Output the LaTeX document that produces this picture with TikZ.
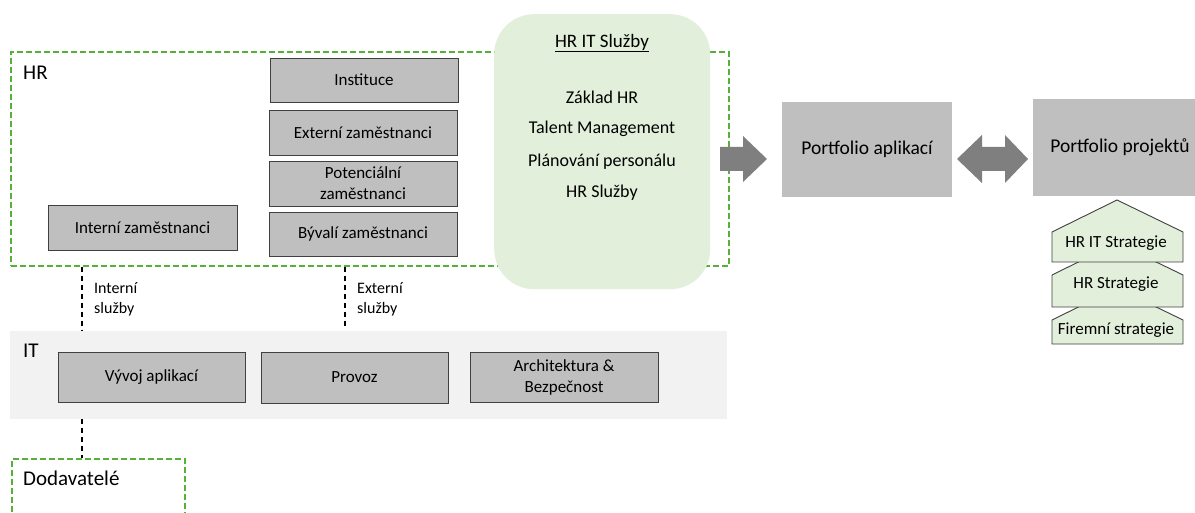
\documentclass[tikz,border=0pt]{standalone}
\usepackage{fontspec}
\setmainfont{Carlito}
\usetikzlibrary{calc}

\definecolor{boxgray}{HTML}{BFBFBF}
\definecolor{edgegray}{HTML}{404040}
\definecolor{arrowgray}{HTML}{7F7F7F}
\definecolor{palegreen}{HTML}{E2EFDA}
\definecolor{dashgreen}{HTML}{56B03A}
\definecolor{bandgray}{HTML}{F2F2F2}

\tikzset{
  unitbox/.style={draw=edgegray, line width=0.9pt, fill=boxgray, inner sep=0pt,
    minimum width=188pt, minimum height=45pt, align=center,
    font=\fontsize{17}{21}\selectfont},
  portbox/.style={fill=boxgray, inner sep=0pt, align=center,
    font=\fontsize{19.5}{23}\selectfont},
  frame/.style={draw=dashgreen, line width=1.7pt, dash pattern=on 6pt off 3pt,
    inner sep=0pt, anchor=north west},
  svc/.style={draw=black, line width=1.5pt, dash pattern=on 5pt off 4pt},
  grouplabel/.style={anchor=west, inner sep=0pt, font=\fontsize{21}{25}\selectfont},
  svclabel/.style={anchor=west, inner sep=0pt, align=left,
    font=\fontsize{16}{20}\selectfont},
  itemtext/.style={inner sep=0pt, font=\fontsize{18}{22}\selectfont},
  house/.style={draw=edgegray, line width=0.9pt, fill=palegreen},
  houselabel/.style={inner sep=0pt, font=\fontsize{17}{21}\selectfont},
  blockarrow/.style={fill=arrowgray},
}

\begin{document}
\begin{tikzpicture}[x=1pt, y=-1pt]
\clip (0,0) rectangle (1195,513);
\fill[white] (0,0) rectangle (1195,513);

% IT band and its units
\node[fill=bandgray, inner sep=0pt, minimum width=717pt, minimum height=88pt,
  anchor=north west] (it) at (10,331) {};
\node[grouplabel] (itlabel) at (23,351) {IT};
\node[unitbox, minimum width=187pt, minimum height=50pt] (vyv) at (151.5,377) {Vývoj aplikací};
\node[unitbox, minimum width=187pt, minimum height=51pt] (prov) at (354.5,377.5) {Provoz};
\node[unitbox, minimum width=188pt, minimum height=50pt] (arch) at (564,377) {Architektura \&\\Bezpečnost};

% HR frame
\node[frame, minimum width=718pt, minimum height=214pt] (hr) at (10,51) {};
\node[grouplabel] (hrlabel) at (23,73) {HR};

% HR IT services
\node[fill=palegreen, rounded corners=40pt, inner sep=0pt, minimum width=216pt,
  minimum height=275pt, anchor=north west] (hrit) at (494,14) {};
\node[itemtext, font=\fontsize{19}{23}\selectfont] (hrittitle) at (602,43) {\underline{HR IT Služby}};
\node[itemtext] (s1) at (602,97) {Základ HR};
\node[itemtext] (s2) at (602,129) {Talent Management};
\node[itemtext] (s3) at (602,162) {Plánování personálu};
\node[itemtext] (s4) at (602,193) {HR Služby};

% HR units
\node[unitbox, minimum height=44pt] (inst) at (364,80) {Instituce};
\node[unitbox] (ext) at (363,132.5) {Externí zaměstnanci};
\node[unitbox] (pot) at (363,183.5) {Potenciální\\zaměstnanci};
\node[unitbox, minimum height=44pt] (byv) at (363,234) {Bývalí zaměstnanci};
\node[unitbox, minimum width=189pt] (intz) at (142.5,227.5) {Interní zaměstnanci};

% Suppliers
\node[frame, minimum width=173pt, minimum height=120pt] (dod) at (11,458) {};
\node[grouplabel] (dodlabel) at (23,478) {Dodavatelé};

% Service links
\coordinate (xint) at (82,0);
\coordinate (xext) at (345,0);
\draw[svc] (hr.south -| xint) -- (it.north -| xint);
\draw[svc] (hr.south -| xext) -- ($(it.north -| xext)+(0,-2)$);
\draw[svc] (it.south -| xint) -- (dod.north -| xint);
\node[svclabel] (intsvc) at (94,299) {Interní\\služby};
\node[svclabel] (extsvc) at (357,299) {Externí\\služby};

% Portfolios
\node[portbox, minimum width=170pt, minimum height=95pt] (pa) at (867,149.5) {Portfolio aplikací};
\node[portbox, minimum width=174pt, minimum height=97pt] (pp) at (1120,147.5) {Portfolio projektů};

% Block arrows
\fill[blockarrow] (720,147) -- (743,147) -- (743,136) -- (767,159) -- (743,182)
  -- (743,171) -- (720,171) -- cycle;
\fill[blockarrow] (957,159) -- (982,135) -- (982,147) -- (1005,147) -- (1005,135)
  -- (1028,159) -- (1005,183) -- (1005,171) -- (982,171) -- (982,183) -- cycle;

% Strategy stack
\draw[house] (1052,344) -- (1052,320) -- (1117,288) -- (1183,320) -- (1183,344) -- cycle;
\draw[house] (1052,307) -- (1052,275) -- (1117,243) -- (1183,275) -- (1183,307) -- cycle;
\draw[house] (1052,262) -- (1052,232) -- (1117,200) -- (1183,232) -- (1183,262) -- cycle;
\node[houselabel] (st1) at (1116,243) {HR IT Strategie};
\node[houselabel] (st2) at (1116,284) {HR Strategie};
\node[houselabel] (st3) at (1116,330) {Firemní strategie};
\end{tikzpicture}
\end{document}
